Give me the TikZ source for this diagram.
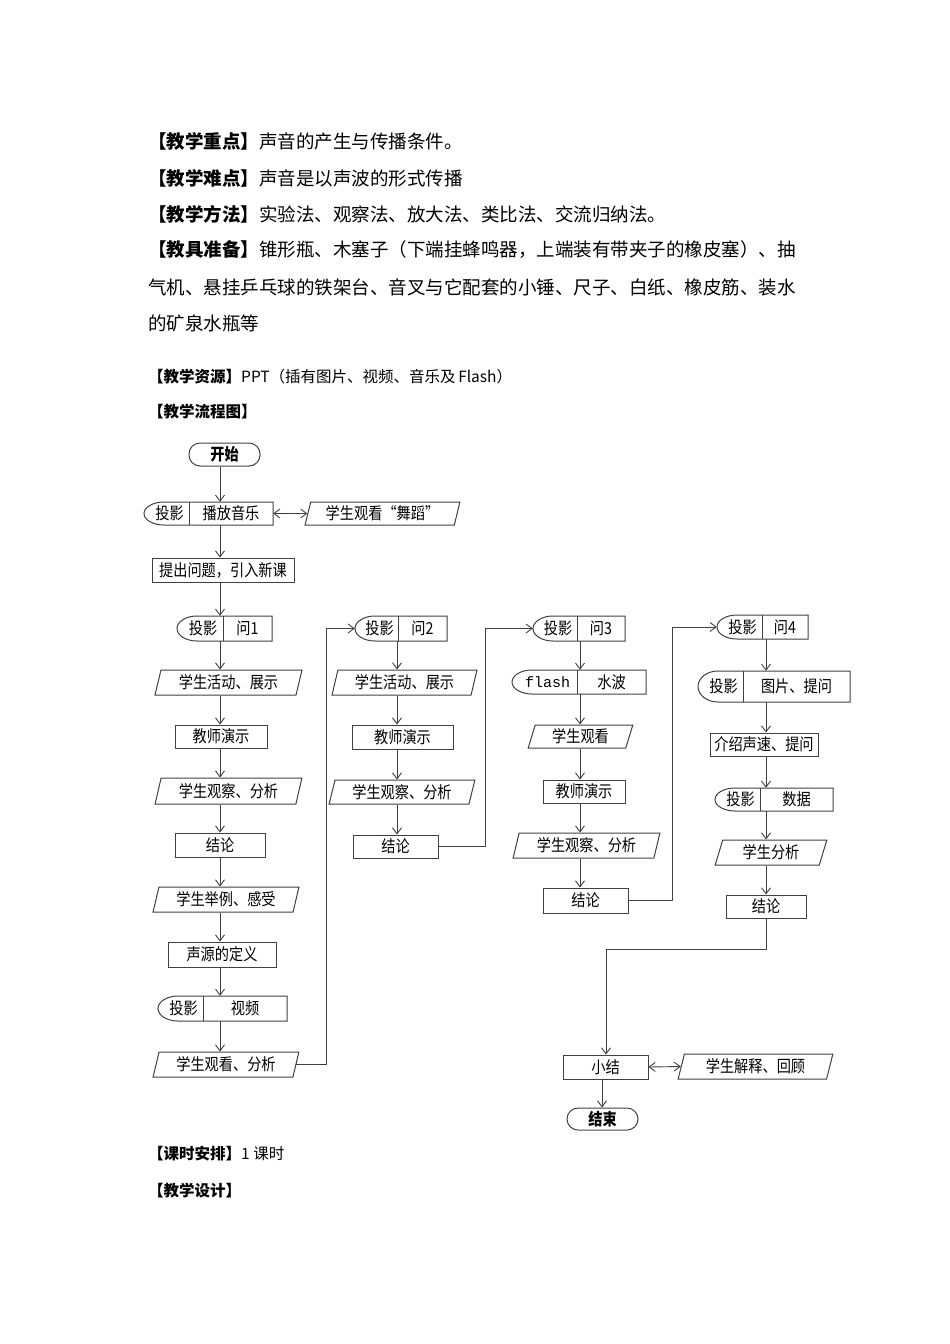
\documentclass[tikz,border=0pt]{standalone}
\usepackage{fontspec}
\setmainfont{Noto Sans CJK SC}
\setmonofont{Liberation Mono}
\newfontfamily\flowcjk{Noto Sans CJK SC}[FakeStretch=0.86]
\usetikzlibrary{arrows.meta,shapes.geometric,fit}
\newcommand\bodyfont{\fontsize{18.5}{22}\selectfont}
\newcommand\smallfont{\fontsize{15.5}{18}\selectfont}
\newcommand\flowfont{\flowcjk\fontsize{16.5}{19}\selectfont}
% name, left x, split x, right x, top y, bottom y, left text, right text
\newcommand\projbox[8]{%
  \pgfmathsetmacro\ry{(#6-#5)/2}
  \draw[box] ({#2+20},#5) arc[start angle=90,end angle=270,x radius=20pt,y radius=\ry pt]
    -- (#4,#6) -- (#4,#5) -- cycle;
  \draw[box] (#3,#5) -- (#3,#6);
  \node[fit={(#2,#5) (#4,#6)},inner sep=0pt] (#1) {};
  \node[inner sep=0pt,font=\flowfont] (#1-l) at ({(#2+#3)/2+3},{(#5+#6)/2}) {#7};
  \node[inner sep=0pt,font=\flowfont] (#1-r) at ({(#3+#4)/2},{(#5+#6)/2}) {#8};
}

\begin{document}
\begin{tikzpicture}[x=1pt,y=-1pt,
    txt/.style={anchor=west,inner sep=0pt,font=\bodyfont},
    box/.style={draw=black!75,line width=1pt},
    proc/.style={box,inner sep=0pt,font=\flowfont},
    term/.style={proc,rounded corners=11pt,font=\flowfont\bfseries},
    io/.style={proc,trapezium,trapezium left angle=74,trapezium right angle=106,trapezium stretches=true},
    arr/.style={draw=black!75,line width=0.9pt,-{Straight Barb[length=6pt,width=9pt]}},
    dbl/.style={draw=black!75,line width=0.9pt,{Straight Barb[length=6pt,width=9pt]}-{Straight Barb[length=6pt,width=9pt]}}]
  \useasboundingbox (0,0) rectangle (950,1344);

  \node[txt] (l1) at (148,141) {{\bfseries 【教学重点】}声音的产生与传播条件。};
  \node[txt] (l2) at (148,178) {{\bfseries 【教学难点】}声音是以声波的形式传播};
  \node[txt] (l3) at (148,214) {{\bfseries 【教学方法】}实验法、观察法、放大法、类比法、交流归纳法。};
  \node[txt] (l4) at (148,250) {{\bfseries 【教具准备】}锥形瓶、木塞子（下端挂蜂鸣器，上端装有带夹子的橡皮塞）、抽};
  \node[txt] (l5) at (148,287) {气机、悬挂乒乓球的铁架台、音叉与它配套的小锤、尺子、白纸、橡皮筋、装水};
  \node[txt] (l6) at (148,323) {的矿泉水瓶等};
  \node[txt,font=\smallfont] (l7) at (148,377) {{\bfseries 【教学资源】}PPT（插有图片、视频、音乐及\,Flash）};
  \node[txt,font=\smallfont\bfseries] (l8) at (148,412) {【教学流程图】};
  \node[txt,font=\smallfont] (l9) at (148,1154) {{\bfseries 【课时安排】}1 课时};
  \node[txt,font=\smallfont\bfseries] (l10) at (148,1191) {【教学设计】};

  \coordinate (c1) at (220,0);
  \coordinate (c2) at (397,0);
  \coordinate (c3) at (580,0);
  \coordinate (c4) at (766,0);
  \coordinate (c5) at (602,0);

  \node[term,draw,minimum width=71pt,minimum height=23pt] (start) at (224.5,454.5) {开始};
  \projbox{play}{144}{189}{273}{502}{525}{投影}{播放音乐}
  \node[io,minimum width=155pt,minimum height=23pt] (dance) at (382.5,513.5) {学生观看“舞蹈”};
  \node[proc,minimum width=142pt,minimum height=24pt] (ask) at (223,570) {提出问题，引入新课};

  \projbox{q1}{177}{223}{272}{616}{641}{投影}{问1}
  \node[io,minimum width=147pt,minimum height=25pt] (act1) at (228.5,682.5) {学生活动、展示};
  \node[proc,minimum width=92pt,minimum height=23pt] (demo1) at (221,736.5) {教师演示};
  \node[io,minimum width=147pt,minimum height=26pt] (obs1) at (228.5,791) {学生观察、分析};
  \node[proc,minimum width=90pt,minimum height=24pt] (res1) at (220,845) {结论};
  \node[io,minimum width=146pt,minimum height=25pt] (ex1) at (226,899.5) {学生举例、感受};
  \node[proc,minimum width=108pt,minimum height=25pt] (def1) at (222,954.5) {声源的定义};
  \projbox{vid}{158}{203}{287}{996}{1021}{投影}{视频}
  \node[io,minimum width=146pt,minimum height=25pt] (watch1) at (226,1064.5) {学生观看、分析};

  \projbox{q2}{355}{398}{447}{616}{641}{投影}{问2}
  \node[io,minimum width=145pt,minimum height=25pt] (act2) at (404.5,682.5) {学生活动、展示};
  \node[proc,minimum width=101pt,minimum height=24pt] (demo2) at (402.5,737) {教师演示};
  \node[io,minimum width=146pt,minimum height=24pt] (obs2) at (402,792) {学生观察、分析};
  \node[proc,minimum width=85pt,minimum height=23pt] (res2) at (395.5,846.5) {结论};

  \projbox{q3}{533}{577}{625}{616}{641}{投影}{问3}
  \projbox{wave}{512}{577}{646}{670}{694}{\ttfamily\fontsize{15}{17}\selectfont flash}{水波}
  \node[io,minimum width=105pt,minimum height=23pt] (watch3) at (580.5,736.5) {学生观看};
  \node[proc,minimum width=82pt,minimum height=23pt] (demo3) at (584,791.5) {教师演示};
  \node[io,minimum width=147pt,minimum height=25pt] (obs3) at (586.5,845.5) {学生观察、分析};
  \node[proc,minimum width=85pt,minimum height=25pt] (res3) at (585.5,900.5) {结论};

  \projbox{q4}{717}{762}{808}{615}{639}{投影}{问4}
  \projbox{pic}{698}{743}{850}{671}{702}{投影}{图片、提问}
  \node[proc,minimum width=108pt,minimum height=23pt] (speed) at (764,744.5) {介绍声速、提问};
  \projbox{data}{715}{760}{833}{788}{811}{投影}{数据}
  \node[io,minimum width=112pt,minimum height=25pt] (ana4) at (771,852.5) {学生分析};
  \node[proc,minimum width=80pt,minimum height=23pt] (res4) at (766,906.5) {结论};

  \node[proc,minimum width=85pt,minimum height=24pt] (sum) at (605.5,1067) {小结};
  \node[io,minimum width=155pt,minimum height=25pt] (review) at (755.5,1066.5) {学生解释、回顾};
  \node[term,draw,minimum width=71pt,minimum height=22pt] (end) at (602.5,1119) {结束};

  \coordinate (j1) at (326,628.5);
  \coordinate (j2) at (485,628.5);
  \coordinate (j3) at (672,627);
  \coordinate (j4) at (606,949);

  \draw[arr] (start.south -| c1) -- (play.north -| c1);
  \draw[dbl] (play.east) -- (dance.west);
  \draw[arr] (play.south -| c1) -- (ask.north -| c1);
  \draw[arr] (ask.south -| c1) -- (q1.north -| c1);
  \draw[arr] (q1.south -| c1) -- (act1.north -| c1);
  \draw[arr] (act1.south -| c1) -- (demo1.north -| c1);
  \draw[arr] (demo1.south -| c1) -- (obs1.north -| c1);
  \draw[arr] (obs1.south -| c1) -- (res1.north -| c1);
  \draw[arr] (res1.south -| c1) -- (ex1.north -| c1);
  \draw[arr] (ex1.south -| c1) -- (def1.north -| c1);
  \draw[arr] (def1.south -| c1) -- (vid.north -| c1);
  \draw[arr] (vid.south -| c1) -- (watch1.north -| c1);
  \draw[arr] (watch1.east) -| (j1) -- (q2.west);

  \draw[arr] (q2.south -| c2) -- (act2.north -| c2);
  \draw[arr] (act2.south -| c2) -- (demo2.north -| c2);
  \draw[arr] (demo2.south -| c2) -- (obs2.north -| c2);
  \draw[arr] (obs2.south -| c2) -- (res2.north -| c2);
  \draw[arr] (res2.east) -| (j2) -- (q3.west);

  \draw[arr] (q3.south -| c3) -- (wave.north -| c3);
  \draw[arr] (wave.south -| c3) -- (watch3.north -| c3);
  \draw[arr] (watch3.south -| c3) -- (demo3.north -| c3);
  \draw[arr] (demo3.south -| c3) -- (obs3.north -| c3);
  \draw[arr] (obs3.south -| c3) -- (res3.north -| c3);
  \draw[arr] (res3.east) -| (j3) -- (q4.west);

  \draw[arr] (q4.south -| c4) -- (pic.north -| c4);
  \draw[arr] (pic.south -| c4) -- (speed.north -| c4);
  \draw[arr] (speed.south -| c4) -- (data.north -| c4);
  \draw[arr] (data.south -| c4) -- (ana4.north -| c4);
  \draw[arr] (ana4.south -| c4) -- (res4.north -| c4);
  \draw[arr] (res4.south) |- (j4) -- (sum.north -| j4);

  \draw[dbl] (sum.east) -- (review.west);
  \draw[arr] (sum.south -| c5) -- (end.north -| c5);
\end{tikzpicture}
\end{document}
